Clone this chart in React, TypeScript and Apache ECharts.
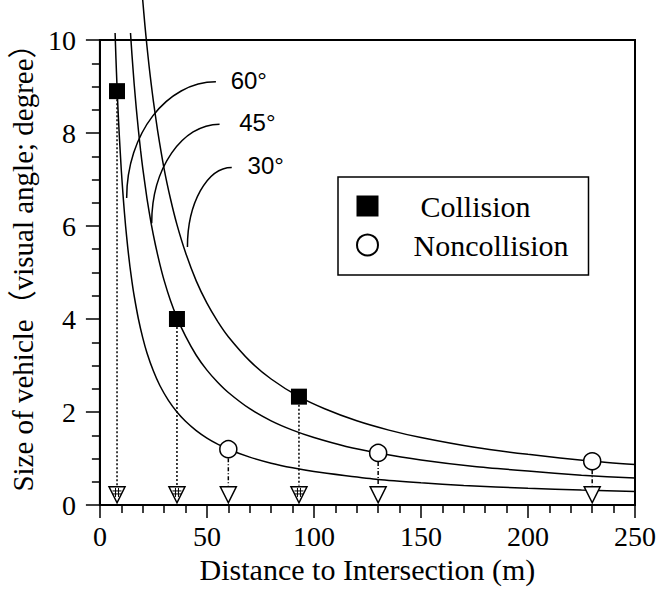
import React, { useEffect, useRef } from "react";
import * as echarts from "echarts";

// Curves (visual angle vs distance)
const curve60X = [7.1, 7.5, 8, 8.5, 9, 10, 11, 12, 13, 14, 15, 16, 18, 20, 22, 25, 28, 32, 36, 40, 45, 50, 55, 60, 70, 80, 90, 100, 115, 130, 150, 170, 200, 225, 250];
const curve60Y = [10.15, 9.6, 9.0, 8.47, 8.0, 7.2, 6.55, 6.0, 5.54, 5.14, 4.8, 4.5, 4.0, 3.6, 3.27, 2.88, 2.57, 2.25, 2.0, 1.8, 1.6, 1.44, 1.31, 1.2, 1.03, 0.9, 0.8, 0.72, 0.63, 0.55, 0.48, 0.42, 0.36, 0.32, 0.29];
const curve45X = [14.3, 15, 16, 17, 18, 19, 20, 22, 24, 26, 28, 30, 33, 36, 40, 45, 50, 55, 60, 70, 80, 90, 100, 115, 130, 150, 175, 200, 225, 250];
const curve45Y = [10.15, 9.67, 9.06, 8.53, 8.06, 7.63, 7.25, 6.59, 6.04, 5.58, 5.18, 4.83, 4.39, 4.03, 3.63, 3.22, 2.9, 2.64, 2.42, 2.07, 1.81, 1.61, 1.45, 1.26, 1.12, 0.97, 0.83, 0.73, 0.64, 0.58];
const curve30X = [20, 21, 22, 23, 24, 25, 27, 30, 33, 36, 40, 45, 50, 55, 60, 70, 80, 93, 105, 120, 135, 150, 175, 200, 230, 250];
const curve30Y = [10.86, 10.33, 9.86, 9.43, 9.04, 8.68, 8.04, 7.23, 6.58, 6.03, 5.43, 4.82, 4.34, 3.95, 3.62, 3.1, 2.71, 2.33, 2.07, 1.81, 1.61, 1.45, 1.24, 1.09, 0.94, 0.87];

// Observations
const collisionX = [8, 36, 93];
const collisionY = [8.9, 4.0, 2.33];
const noncollisionX = [60, 130, 230];
const noncollisionY = [1.2, 1.12, 0.94];
const triangleX = [8, 36, 60, 93, 130, 230];
const triangleY = [0.22, 0.22, 0.22, 0.22, 0.22, 0.22];
const dropEndY = 0.42;

// Leader annotations (data coordinates)
const leaderLabels = ["60°", "45°", "30°"];
const leaderStart = [[54.2, 9.1], [55.9, 8.19], [61.6, 7.26]];
const leaderEnd = [[12.5, 6.6], [24.2, 6.06], [40.9, 5.55]];
const leaderLabelPos = [[61.1, 9.12], [65.1, 8.22], [69.0, 7.31]];

const SERIF = "Liberation Serif, Noto Sans CJK JP, serif";
const SANS = "Liberation Sans, Arial, sans-serif";

const zip = (xs: number[], ys: number[]) => xs.map((x, i) => [x, ys[i]]);

export default function App() {
  const ref = useRef<HTMLDivElement>(null);
  useEffect(() => {
    if (!ref.current) return;
    const chart = echarts.init(ref.current, undefined, { renderer: "svg" });
    const curveStyle = {
      type: "line" as const,
      showSymbol: false,
      clip: false,
      smooth: 0.2,
      silent: true,
      lineStyle: { color: "#000", width: 1.5 },
      z: 2,
    };
    const drops: any[] = [
      ...collisionX.map((x, i) => ({
        type: "line",
        showSymbol: false,
        silent: true,
        data: [[x, collisionY[i]], [x, dropEndY]],
        lineStyle: { color: "#000", width: 1.5, type: [2, 2] },
        z: 3,
      })),
      ...noncollisionX.map((x, i) => ({
        type: "line",
        showSymbol: false,
        silent: true,
        data: [[x, noncollisionY[i]], [x, dropEndY]],
        lineStyle: { color: "#000", width: 1.5, type: [4, 2, 1, 2] },
        z: 3,
      })),
    ];
    const option: any = {
      animation: false,
      backgroundColor: "#fff",
      textStyle: { fontFamily: SERIF, color: "#000" },
      grid: {
        left: 96,
        top: 40,
        right: 23,
        bottom: 85,
        show: true,
        borderColor: "#000",
        borderWidth: 2,
        backgroundColor: "transparent",
      },
      legend: {
        orient: "vertical",
        left: 338,
        top: 177,
        padding: [14, 20, 15, 18],
        itemGap: 9,
        itemWidth: 22,
        itemHeight: 21,
        borderColor: "#000",
        borderWidth: 1.5,
        backgroundColor: "#fff",
        textStyle: { fontFamily: SERIF, fontSize: 30, color: "#000" },
        data: [
          { name: "Collision", icon: "rect", textStyle: { padding: [0, 0, 0, 37] } },
          { name: "Noncollision", icon: "circle", textStyle: { padding: [0, 0, 0, 30] } },
        ],
        selectedMode: false,
      },
      xAxis: {
        type: "value",
        min: 0,
        max: 250,
        interval: 50,
        name: "Distance to Intersection (m)",
        nameLocation: "middle",
        nameGap: 44,
        nameTextStyle: { fontFamily: SERIF, fontSize: 30, color: "#000" },
        axisLine: { show: true, onZero: false, lineStyle: { color: "#000", width: 2 } },
        axisTick: { show: true, inside: false, length: 13, lineStyle: { color: "#000", width: 1.5 } },
        minorTick: { show: true, splitNumber: 5, length: 8, lineStyle: { color: "#000", width: 1.5 } },
        axisLabel: { fontFamily: SERIF, fontSize: 28, color: "#000", margin: 17 },
        splitLine: { show: false },
      },
      yAxis: {
        type: "value",
        min: 0,
        max: 10,
        interval: 2,
        name: "Size of vehicle（visual angle; degree）",
        nameLocation: "middle",
        nameGap: 58,
        nameTextStyle: {
          fontFamily: SERIF,
          fontSize: 29,
          color: "#000",
          padding: [0, 0, 0, 24],
        },
        axisLine: { show: true, onZero: false, lineStyle: { color: "#000", width: 2 } },
        axisTick: { show: true, inside: false, length: 14, lineStyle: { color: "#000", width: 1.5 } },
        minorTick: { show: true, splitNumber: 4, length: 8, lineStyle: { color: "#000", width: 1.5 } },
        axisLabel: { fontFamily: SERIF, fontSize: 28, color: "#000", margin: 24 },
        splitLine: { show: false },
      },
      series: [
        { ...curveStyle, name: "60°", data: zip(curve60X, curve60Y) },
        { ...curveStyle, name: "45°", data: zip(curve45X, curve45Y) },
        { ...curveStyle, name: "30°", data: zip(curve30X, curve30Y) },
        ...drops,
        {
          type: "scatter",
          name: "triangles",
          silent: true,
          symbol: "triangle",
          symbolRotate: 180,
          symbolSize: 16,
          itemStyle: { color: "#fff", borderColor: "#000", borderWidth: 1.5, opacity: 1 },
          data: zip(triangleX, triangleY),
          z: 4,
        },
        {
          type: "scatter",
          name: "hash",
          silent: true,
          symbol: "path://M4,0L4,12M8,0L8,12M0,4L12,4M0,8L12,8",
          symbolSize: 9,
          itemStyle: { color: "none", borderColor: "#000", borderWidth: 1, opacity: 1 },
          data: collisionX.map((x) => [x, 0.27]),
          z: 5,
        },
        {
          type: "scatter",
          name: "Collision",
          silent: true,
          symbol: "rect",
          symbolSize: 16,
          itemStyle: { color: "#000", opacity: 1 },
          data: zip(collisionX, collisionY),
          z: 6,
        },
        {
          type: "scatter",
          name: "Noncollision",
          silent: true,
          symbol: "circle",
          symbolSize: 17,
          itemStyle: { color: "#fff", borderColor: "#000", borderWidth: 1.5, opacity: 1 },
          data: zip(noncollisionX, noncollisionY),
          z: 6,
        },
      ],
    };
    chart.setOption(option);

    const px = (p: number[]) => chart.convertToPixel({ gridIndex: 0 }, p) as number[];
    const graphics: any[] = [];
    leaderLabels.forEach((label, i) => {
      const s = px(leaderStart[i]);
      const e = px(leaderEnd[i]);
      const rx = s[0] - e[0];
      const ry = e[1] - s[1];
      const k = 0.5523;
      graphics.push({
        type: "bezierCurve",
        silent: true,
        shape: {
          x1: s[0],
          y1: s[1],
          cpx1: s[0] - k * rx,
          cpy1: s[1],
          cpx2: e[0],
          cpy2: e[1] - k * ry,
          x2: e[0],
          y2: e[1],
        },
        style: { stroke: "#000", lineWidth: 1.5, fill: "none" },
        z: 10,
      });
      const t = px(leaderLabelPos[i]);
      graphics.push({
        type: "text",
        silent: true,
        x: t[0],
        y: t[1],
        style: {
          text: label,
          font: `24px ${SANS}`,
          fill: "#000",
          textAlign: "left",
          textVerticalAlign: "middle",
        },
        z: 10,
      });
    });
    chart.setOption({ graphic: graphics });

    return () => chart.dispose();
  }, []);
  return (
    <div
      ref={ref}
      style={{ position: "fixed", left: 0, top: 0, width: 659, height: 590, background: "#fff" }}
    />
  );
}
